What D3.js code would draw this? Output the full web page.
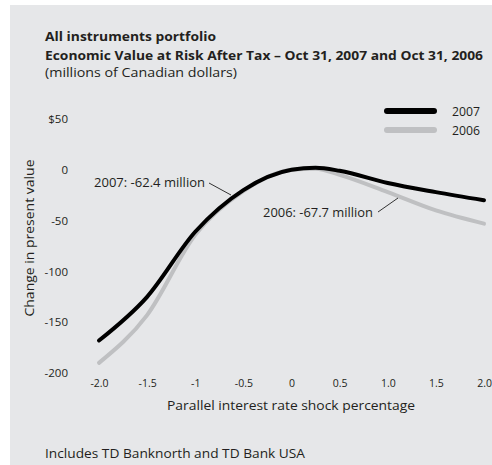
<!DOCTYPE html>
<html><head><meta charset="utf-8">
<script src="https://cdn.jsdelivr.net/npm/d3@7"></script>
<style>
html,body{margin:0;padding:0;background:#fff;}
svg{display:block;font-family:"Open Sans","Noto Sans",sans-serif;}
</style></head>
<body>
<svg id="c" width="492" height="465"></svg>
<script>
const shocks = [-2.0, -1.5, -1.0, -0.5, 0, 0.25, 0.5, 1.0, 1.5, 2.0];
const values2007 = [-168, -125, -61, -20, 0, 2, -1, -13, -22, -30];
const values2006 = [-190, -143, -64, -21, 0, 1, -5, -22, -40, -53];
const xTickValues = [-2.0, -1.5, -1, -0.5, 0, 0.5, 1.0, 1.5, 2.0];
const xTickLabels = ["-2.0", "-1.5", "-1", "-0.5", "0", "0.5", "1.0", "1.5", "2.0"];
const yTickValues = [50, 0, -50, -100, -150, -200];
const yTickLabels = ["$50", "0", "-50", "-100", "-150", "-200"];
const seriesNames = ["2007", "2006"];
const seriesColors = ["#000000", "#bfc0c2"];

const FONT = "'Open Sans', 'Noto Sans', sans-serif";
const INK = "#231f20";
const svg = d3.select("#c");
svg.append("rect").attr("x", 10).attr("y", 5).attr("width", 482).attr("height", 460).attr("fill", "#e6e7e9");

const x = d3.scaleLinear().domain([-2, 2]).range([99, 484]);
const y = d3.scaleLinear().domain([-200, 50]).range([373, 119]);

function txt(xx, yy, s, size, len, opts = {}) {
  const t = svg.append("text").attr("x", xx).attr("y", yy).attr("font-size", size).attr("fill", INK).text(s);
  if (len) t.attr("textLength", len).attr("lengthAdjust", "spacingAndGlyphs");
  if (opts.bold) t.attr("font-weight", "bold");
  if (opts.anchor) t.attr("text-anchor", opts.anchor);
  return t;
}

// titles
txt(45, 41, "All instruments portfolio", 12.5, 171, {bold: true});
txt(45, 60, "Economic Value at Risk After Tax \u2013 Oct 31, 2007 and Oct 31, 2006", 12.5, 438, {bold: true});
txt(45, 77, "(millions of Canadian dollars)", 12.5, 192);

// y axis
const yAxis = d3.axisLeft(y).tickValues(yTickValues).tickFormat((d, i) => yTickLabels[i]).tickSize(0).tickPadding(0);
const gy = svg.append("g").attr("transform", "translate(68,0)").call(yAxis);
gy.select(".domain").remove();
gy.selectAll("text").attr("font-size", 11.5).attr("fill", INK).attr("font-family", FONT);

// x axis
const xAxis = d3.axisBottom(x).tickValues(xTickValues).tickFormat((d, i) => xTickLabels[i]).tickSize(0).tickPadding(0);
const gx = svg.append("g").attr("transform", "translate(0,380)").call(xAxis);
gx.select(".domain").remove();
gx.selectAll("text").attr("font-size", 10.5).attr("fill", INK).attr("font-family", FONT);

// axis titles
svg.append("text").attr("transform", "translate(34,238) rotate(-90)").attr("text-anchor", "middle")
  .attr("font-size", 13.5).attr("fill", INK).attr("textLength", 157).attr("lengthAdjust", "spacingAndGlyphs")
  .text("Change in present value");
txt(291, 410, "Parallel interest rate shock percentage", 13.5, 248, {anchor: "middle"});

// lines
const line = d3.line().x((d, i) => x(shocks[i])).y(d => y(d)).curve(d3.curveMonotoneX);
svg.append("path").datum(values2006).attr("d", line).attr("fill", "none").attr("stroke", seriesColors[1]).attr("stroke-width", 4).attr("stroke-linecap", "round");
svg.append("path").datum(values2007).attr("d", line).attr("fill", "none").attr("stroke", seriesColors[0]).attr("stroke-width", 4).attr("stroke-linecap", "round");

// annotations
txt(94, 187, "2007: -62.4 million", 12, 111);
svg.append("line").attr("x1", 209).attr("y1", 183).attr("x2", 231).attr("y2", 195).attr("stroke", "#333").attr("stroke-width", 1);
txt(263, 217, "2006: -67.7 million", 12, 110);
svg.append("line").attr("x1", 378).attr("y1", 212).attr("x2", 398).attr("y2", 198).attr("stroke", "#333").attr("stroke-width", 1);

// legend
seriesNames.forEach((n, i) => {
  const ly = 111 + i * 19;
  svg.append("line").attr("x1", 387).attr("x2", 434).attr("y1", ly).attr("y2", ly)
    .attr("stroke", seriesColors[i]).attr("stroke-width", 6).attr("stroke-linecap", "round");
  txt(452, ly + 4.5, n, 12, 28);
});

// footnote
txt(45, 458, "Includes TD Banknorth and TD Bank USA", 13, 260);
</script>
</body></html>
